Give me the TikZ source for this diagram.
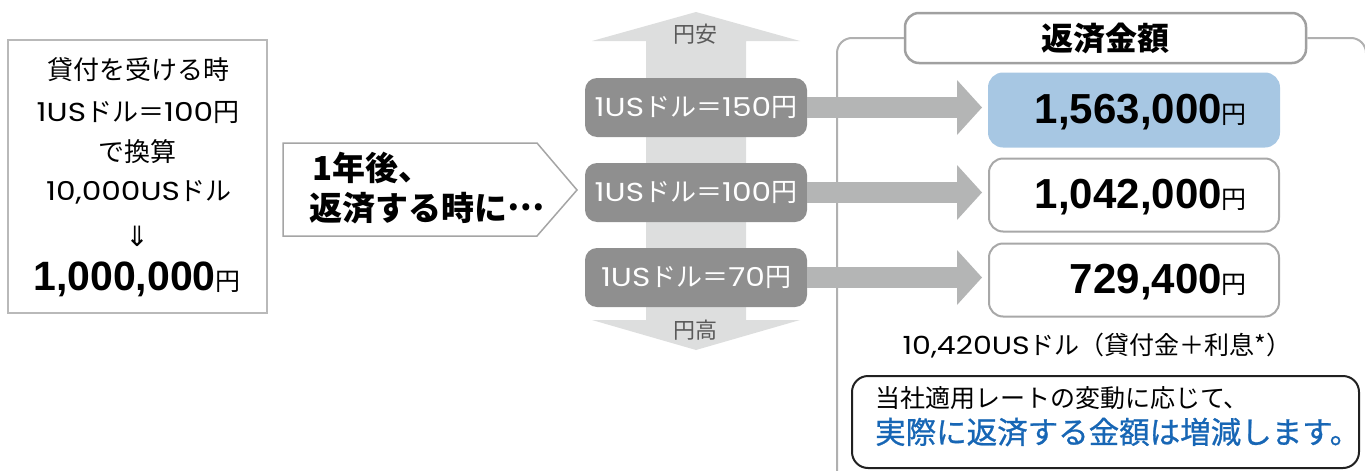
\documentclass[tikz,border=0pt]{standalone}
\usepackage{fontspec}
\setmainfont{Noto Sans CJK JP}
\newfontfamily\numfont{Liberation Sans}
\newfontfamily\arrfont{DejaVu Sans}
\newfontfamily\lat[FakeStretch=1.2]{Poppins}
\newfontfamily\jpmed[FakeBold=0.8]{Noto Sans CJK JP}
\usetikzlibrary{arrows.meta}
\definecolor{boxline}{HTML}{B9B9B9}
\definecolor{pentline}{HTML}{A5A5A5}
\definecolor{vfill}{HTML}{DDDEDE}
\definecolor{ratefill}{HTML}{8F8F8F}
\definecolor{arrfill}{HTML}{B4B5B5}
\definecolor{frameline}{HTML}{B0B0B0}
\definecolor{titleline}{HTML}{A0A0A0}
\definecolor{hlblue}{HTML}{A7C7E3}
\definecolor{resline}{HTML}{A8A8A8}
\definecolor{msgblue}{HTML}{1766B5}
\definecolor{yentext}{HTML}{5A5A5A}
\newcommand\fsz[1]{\fontsize{#1}{#1}\selectfont}
\begin{document}
\begin{tikzpicture}[x=1pt,y=-1pt,
  txt/.style={inner sep=0pt},
  ratebox/.style={fill=ratefill, rounded corners=12pt, minimum width=222pt, minimum height=59pt, inner sep=0pt, text=white, font=\fsz{26}},
  resbox/.style={rounded corners=14pt, minimum width=290pt, minimum height=73pt, inner sep=0pt, line width=2pt},
  harrow/.style={draw=arrfill, line width=21pt, -{Triangle[length=25pt,width=55pt,line width=0pt]}, shorten >=6pt},
  bignum/.style={txt, anchor=east}
]
\useasboundingbox (0,0) rectangle (1365,471);
\clip (0,0) rectangle (1365,471);

% left box
\node[draw=boxline, line width=1.6pt, minimum width=259pt, minimum height=273pt, inner sep=0pt] (loan) at (137.5,176.5) {};
\node[txt] (l1) at (138,70) {\fsz{26}貸付を受ける時};
\node[txt] (l2) at (138,113) {\fsz{26}{\lat 1US}ドル＝{\lat 100}円};
\node[txt] (l3) at (137,152) {\fsz{26}で換算};
\node[txt] (l4) at (139,192) {\fsz{26}{\lat 10,000US}ドル};
\node[txt] (l5) at (137,236) {\arrfont\fsz{28}⇓};
\node[txt] (l6) at (137,279) {{\numfont\bfseries\fsz{41}1,000,000}{\fsz{25}円}};

% pentagon
\draw[draw=pentline, line width=1.5pt, fill=white] (283,143) -- (537,143) -- (577,190) -- (537,236) -- (283,236) -- cycle;
\node[txt, anchor=west] (p1) at (312,168) {\bfseries\fsz{33}1年後、};
\node[txt, anchor=west] (p2) at (309,208) {\bfseries\fsz{33}返済する時に\raisebox{0.3em}{…}};

% vertical double arrow
\fill[vfill] (696,12) -- (800,41) -- (746,41) -- (746,320) -- (800,320) -- (696,350) -- (592,320) -- (646,320) -- (646,41) -- (592,41) -- cycle;
\node[txt, text=yentext] (yasu) at (695,34) {\fsz{22}円安};
\node[txt, text=yentext] (ydaka) at (695,330) {\fsz{22}円高};

% rate boxes
\node[ratebox] (r1) at (696,107.5) {{\lat 1US}ドル＝{\lat 150}円};
\node[ratebox] (r2) at (696,192.5) {{\lat 1US}ドル＝{\lat 100}円};
\node[ratebox] (r3) at (696,277.5) {{\lat 1US}ドル＝{\lat 70}円};

% title and frame
\node[draw=titleline, line width=2.5pt, rounded corners=14pt, fill=white, minimum width=401pt, minimum height=50pt, inner sep=0pt] (title) at (1105.5,38) {\bfseries\fsz{32}返済金額};
\draw[frameline, line width=2pt, rounded corners=15pt] (837,480) -- (837,38) -- (title.west);
\draw[frameline, line width=2pt, rounded corners=15pt] (title.east) -- (1366,38) -- (1366,480);

% result boxes
\node[resbox, fill=hlblue, draw=hlblue] (a1) at (1134,110) {};
\node[resbox, fill=white, draw=resline] (a2) at (1134,195) {};
\node[resbox, fill=white, draw=resline] (a3) at (1134,280) {};
\node[bignum] (t1) at (1247,112) {{\numfont\bfseries\fsz{42}1,563,000}{\fsz{25}円}};
\node[bignum] (t2) at (1247,197) {{\numfont\bfseries\fsz{42}1,042,000}{\fsz{25}円}};
\node[bignum] (t3) at (1247,282) {{\numfont\bfseries\fsz{42}729,400}{\fsz{25}円}};

% arrows
\draw[harrow] (r1.east) -- (r1.east -| a1.west);
\draw[harrow] (r2.east) -- (r2.east -| a2.west);
\draw[harrow] (r3.east) -- (r3.east -| a3.west);

% note
\node[txt] (note) at (1097,346) {\fsz{25}{\lat 10,420US}ドル（貸付金＋利息*）};

% message box
\node[draw=black!87, line width=2pt, rounded corners=16pt, fill=white, minimum width=507pt, minimum height=92pt, inner sep=0pt] (msg) at (1105.5,422) {};
\node[txt, anchor=west] (m1) at (875,398) {\fsz{25}当社適用レートの変動に応じて、};
\node[txt, anchor=west, text=msgblue] (m2) at (875,432) {\jpmed\fsz{30.5}実際に返済する金額は増減します。};
\end{tikzpicture}
\end{document}
